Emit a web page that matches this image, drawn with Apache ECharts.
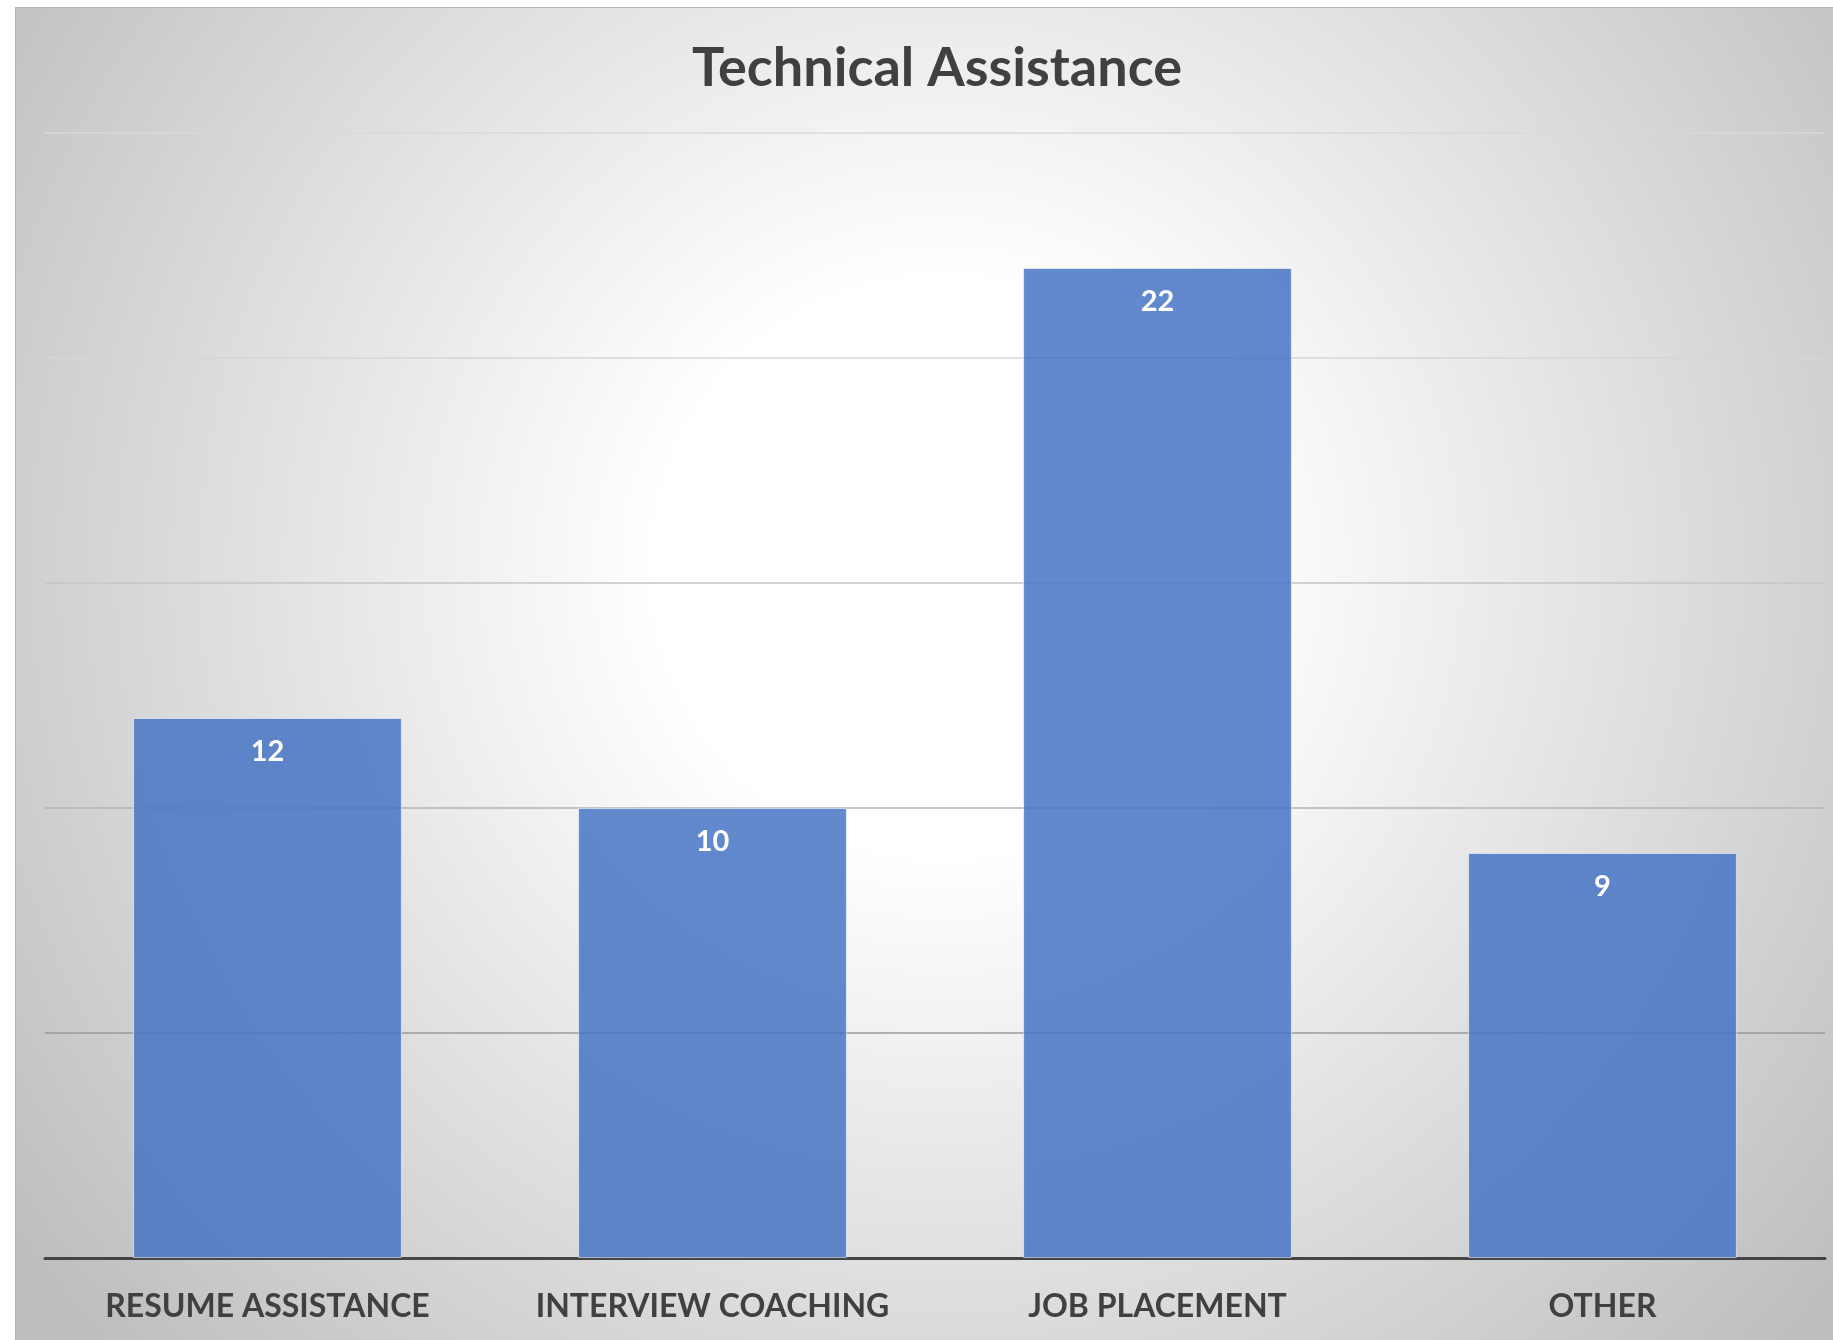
<!DOCTYPE html>
<html>
<head>
<meta charset="utf-8">
<script src="https://cdn.jsdelivr.net/npm/echarts@6/dist/echarts.min.js"></script>
<style>
html,body{margin:0;padding:0;background:#fff;}
#chart{position:absolute;left:15px;top:7px;width:1818px;height:1333px;border-top:1px solid #b5b5b5;border-left:1px solid #b5b5b5;box-sizing:border-box;}
</style>
</head>
<body>
<div id="chart"></div>
<script>
const title = 'Technical Assistance';
const categories = ['RESUME ASSISTANCE', 'INTERVIEW COACHING', 'JOB PLACEMENT', 'OTHER'];
const values = [12, 10, 22, 9];
const yMin = 0, yMax = 25, yStep = 5;

const chart = echarts.init(document.getElementById('chart'), null, {renderer: 'canvas'});
const font = 'Lato, "Open Sans", sans-serif';
chart.setOption({
  animation: false,
  backgroundColor: {
    type: 'radial', x: 0.51, y: 0.42, r: 0.86,
    colorStops: [
      {offset: 0, color: '#ffffff'},
      {offset: 0.25, color: '#ffffff'},
      {offset: 1, color: '#bebebe'}
    ]
  },
  title: {
    text: title, left: 671, top: 26, padding: 5,
    textStyle: {fontFamily: font, fontWeight: 'bold', fontSize: 54, color: '#404040', lineHeight: 60}
  },
  grid: {left: 29, right: 8, top: 125, bottom: 82, containLabel: false},
  xAxis: {
    type: 'category', data: categories,
    axisLine: {lineStyle: {color: '#454545', width: 3}},
    axisTick: {show: false},
    axisLabel: {fontFamily: font, fontWeight: 'bold', fontSize: 32, color: '#404040', margin: 33, interval: 0}
  },
  yAxis: {
    type: 'value', min: yMin, max: yMax, interval: yStep,
    axisLabel: {show: false}, axisLine: {show: false}, axisTick: {show: false},
    splitLine: {lineStyle: {color: ['#999999', '#9a9a9a', '#b3b3b3', '#c4c4c4', '#d6d6d6', '#d8d8d8'], width: 1.5}}
  },
  series: [{
    type: 'bar', data: values, barWidth: '60.4%',
    itemStyle: {color: 'rgba(68,114,196,0.84)', borderColor: 'rgba(255,255,255,0.55)', borderWidth: 1},
    label: {show: true, position: 'insideTop', distance: 19, color: '#ffffff', fontFamily: font, fontWeight: 'bold', fontSize: 29}
  }]
});
</script>
</body>
</html>
